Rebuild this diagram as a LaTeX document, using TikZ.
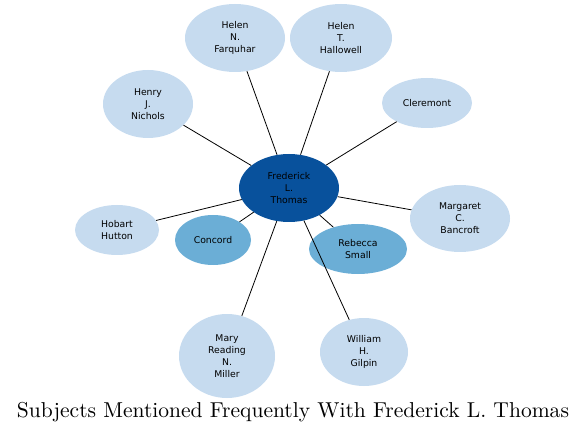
\documentclass[tikz,border=0pt]{standalone}
\usepackage{fontspec}
\setsansfont{DejaVu Sans}
\usetikzlibrary{shapes.geometric}
\definecolor{lightb}{HTML}{C6DBEF}
\definecolor{midb}{HTML}{6BAED6}
\definecolor{darkb}{HTML}{08519C}
\begin{document}
\begin{tikzpicture}[x=1pt,y=-1pt,
  ent/.style={ellipse,inner sep=0pt,align=center,font=\sffamily\fontsize{9.3}{12}\selectfont,text=black},
  lt/.style={ent,fill=lightb},
  md/.style={ent,fill=midb},
  dk/.style={ent,fill=darkb},
  link/.style={draw=black,line width=0.8pt}]
\useasboundingbox (0,0) rectangle (587,433);
\node[dk,minimum width=100pt,minimum height=68pt] (fred) at (289,188) {Frederick\\L.\\Thomas};
\node[lt,minimum width=100pt,minimum height=68pt] (farq) at (235,38) {Helen\\N.\\Farquhar};
\node[lt,minimum width=102pt,minimum height=68pt] (hall) at (341,38) {Helen\\T.\\Hallowell};
\node[lt,minimum width=90pt,minimum height=68pt] (nich) at (148,104) {Henry\\J.\\Nichols};
\node[lt,minimum width=90pt,minimum height=50pt] (cler) at (427,103) {Cleremont};
\node[lt,minimum width=100pt,minimum height=67pt] (banc) at (460,218.5) {Margaret\\C.\\Bancroft};
\node[lt,minimum width=84pt,minimum height=50pt] (hutt) at (117,230) {Hobart\\Hutton};
\node[md,minimum width=76pt,minimum height=50pt] (conc) at (213,240) {Concord};
\node[md,minimum width=98pt,minimum height=50pt] (rebe) at (358,249) {Rebecca\\Small};
\node[lt,minimum width=96pt,minimum height=84pt] (mill) at (227,356) {Mary\\Reading\\N.\\Miller};
\node[lt,minimum width=88pt,minimum height=68pt] (gilp) at (364,352) {William\\H.\\Gilpin};
\foreach \n in {farq,hall,nich,cler,banc,hutt,conc,rebe,mill,gilp}
  \draw[link] (fred) -- (\n);
\node (title) at (293,412) {\resizebox{552pt}{!}{Subjects Mentioned Frequently With Frederick L. Thomas}};
\end{tikzpicture}
\end{document}
